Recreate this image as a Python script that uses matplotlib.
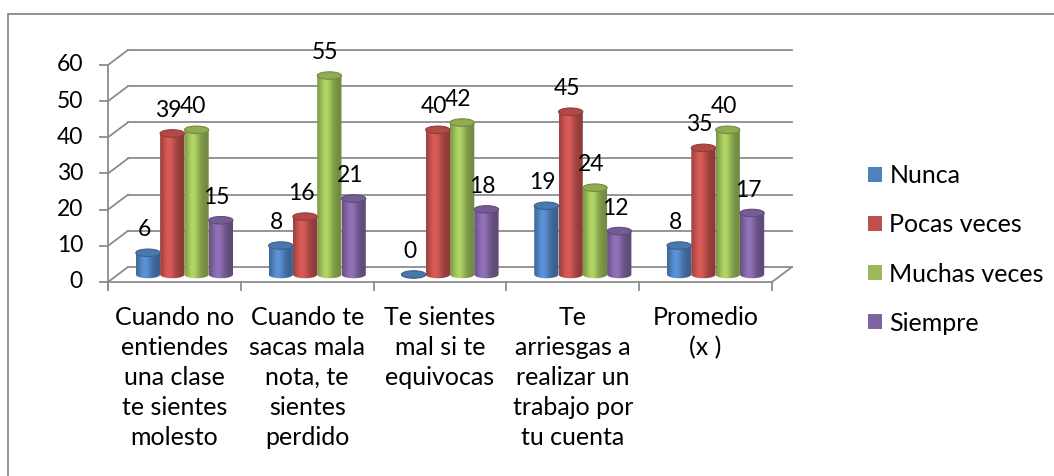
import numpy as np
import matplotlib
matplotlib.use('Agg')
import matplotlib.pyplot as plt
from matplotlib.patches import Ellipse, Polygon, Rectangle, Patch
from matplotlib.colors import to_rgb

plt.rcParams['font.family'] = ['Lato', 'DejaVu Sans']

categories = ['Cuando no\nentiendes\nuna clase\nte sientes\nmolesto',
              'Cuando te\nsacas mala\nnota, te\nsientes\nperdido',
              'Te sientes\nmal si te\nequivocas',
              'Te\narriesgas a\nrealizar un\ntrabajo por\ntu cuenta',
              'Promedio\n(x )']
series = ['Nunca', 'Pocas veces', 'Muchas veces', 'Siempre']
nunca = [6, 8, 0, 19, 8]
pocas = [39, 16, 40, 45, 35]
muchas = [40, 55, 42, 24, 40]
siempre = [15, 21, 18, 12, 17]
colors = ['#4F81BD', '#C0504D', '#9BBB59', '#8064A2']
yticks = [0, 10, 20, 30, 40, 50, 60]

# pixel layout of the fake 3d box
W, H = 1054, 476
X0, CW = 108, 132.8      # pixel of left front edge, px per category
Y0, S = 282, 3.617       # pixel of value 0 (front), px per unit
DXP, DYP = 20, 15        # depth of the box in px
FS = 18      # words
FSN = 16.5   # numbers (Lato digits are wider than the original font's)
GRID = '#8c8c8c'

fig = plt.figure(figsize=(W / 100, H / 100), dpi=100)
ax = fig.add_axes([0, 0, 1, 1])
ax.axis('off')
DX, DY = DXP / CW, DYP / S
n = len(categories)
xl, xr = -0.5, n - 0.5
ymax = yticks[-1]

# outer border (right/bottom run off the picture)
fig.patches.append(Rectangle((8 / W, -0.1), 1.2, 1.1 - 14 / H, transform=fig.transFigure,
                             fill=False, edgecolor='#8a8a8a', lw=1.3))

# back wall + left wall grid
for v in yticks:
    ax.plot([xl + DX, xr + DX], [v + DY, v + DY], color=GRID, lw=1.3, zorder=1)
    ax.plot([xl, xl + DX], [v, v + DY], color=GRID, lw=1.3, zorder=1)
    ax.plot([xl - 8 / CW, xl], [v, v], color=GRID, lw=1.3, zorder=1)
    ax.text(xl - 25 / CW, v, str(v), ha='right', va='center', fontsize=FSN)
ax.plot([xl, xl], [-8 / S, ymax], color=GRID, lw=1.3, zorder=1)
# floor
ax.plot([xl, xr], [0, 0], color=GRID, lw=1.3, zorder=1)
ax.plot([xr, xr + DX], [0, DY], color=GRID, lw=1.3, zorder=1)
for k in range(n + 1):
    ax.plot([xl + k, xl + k], [0, -8 / S], color=GRID, lw=1.3, zorder=1)

# cylinders
bw = 24.3 / CW
eh = 7.5 / S
t = np.linspace(0, 1, 80)
shade = 0.74 + 0.40 * np.exp(-((t - 0.36) / 0.28) ** 2)
data = [nunca, pocas, muchas, siempre]
for i, (vals, col) in enumerate(zip(data, colors)):
    base_rgb = np.array(to_rgb(col))
    grad = np.clip(base_rgb[None, :] * shade[:, None], 0, 1)[None, :, :]
    for j, v in enumerate(vals):
        xc = j + DX / 2 + (i - 1.5) * bw
        base = DY / 2
        top = base + v
        th = np.linspace(np.pi, 2 * np.pi, 40)
        pts = [(xc - bw / 2, top)] + list(zip(xc + bw / 2 * np.cos(th), base + eh / 2 * np.sin(th))) \
            + [(xc + bw / 2, top)]
        body = Polygon(pts, closed=True, fill=False, lw=0, zorder=3)
        ax.add_patch(body)
        im = ax.imshow(grad, extent=[xc - bw / 2, xc + bw / 2, base - eh, top], aspect='auto',
                       interpolation='bilinear', zorder=3)
        im.set_clip_path(body)
        ax.add_patch(Ellipse((xc, top), bw, eh, facecolor=np.clip(base_rgb * 0.92, 0, 1),
                             edgecolor=np.clip(base_rgb * 0.75, 0, 1), lw=0.8, zorder=4))
        ax.text(xc - 4 / CW, top + 23 / S, str(v), ha='center', va='center', fontsize=FSN, zorder=5)

# category labels
for j, lab in enumerate(categories):
    ax.text(j, -24 / S, lab, ha='center', va='top', fontsize=FS, linespacing=1.37)

ax.set_xlim(xl - X0 / CW, xl + (W - X0) / CW)
ax.set_ylim((Y0 - H) / S, Y0 / S)

handles = [Patch(facecolor=c) for c in colors]
fig.legend(handles, series, loc='upper left', bbox_to_anchor=(868 / W, 1 - 164 / H), frameon=False,
           fontsize=FS, handlelength=0.55, handleheight=0.55, handletextpad=0.3,
           labelspacing=1.05, borderaxespad=0, borderpad=0)

fig.savefig('out.png', dpi=100)
